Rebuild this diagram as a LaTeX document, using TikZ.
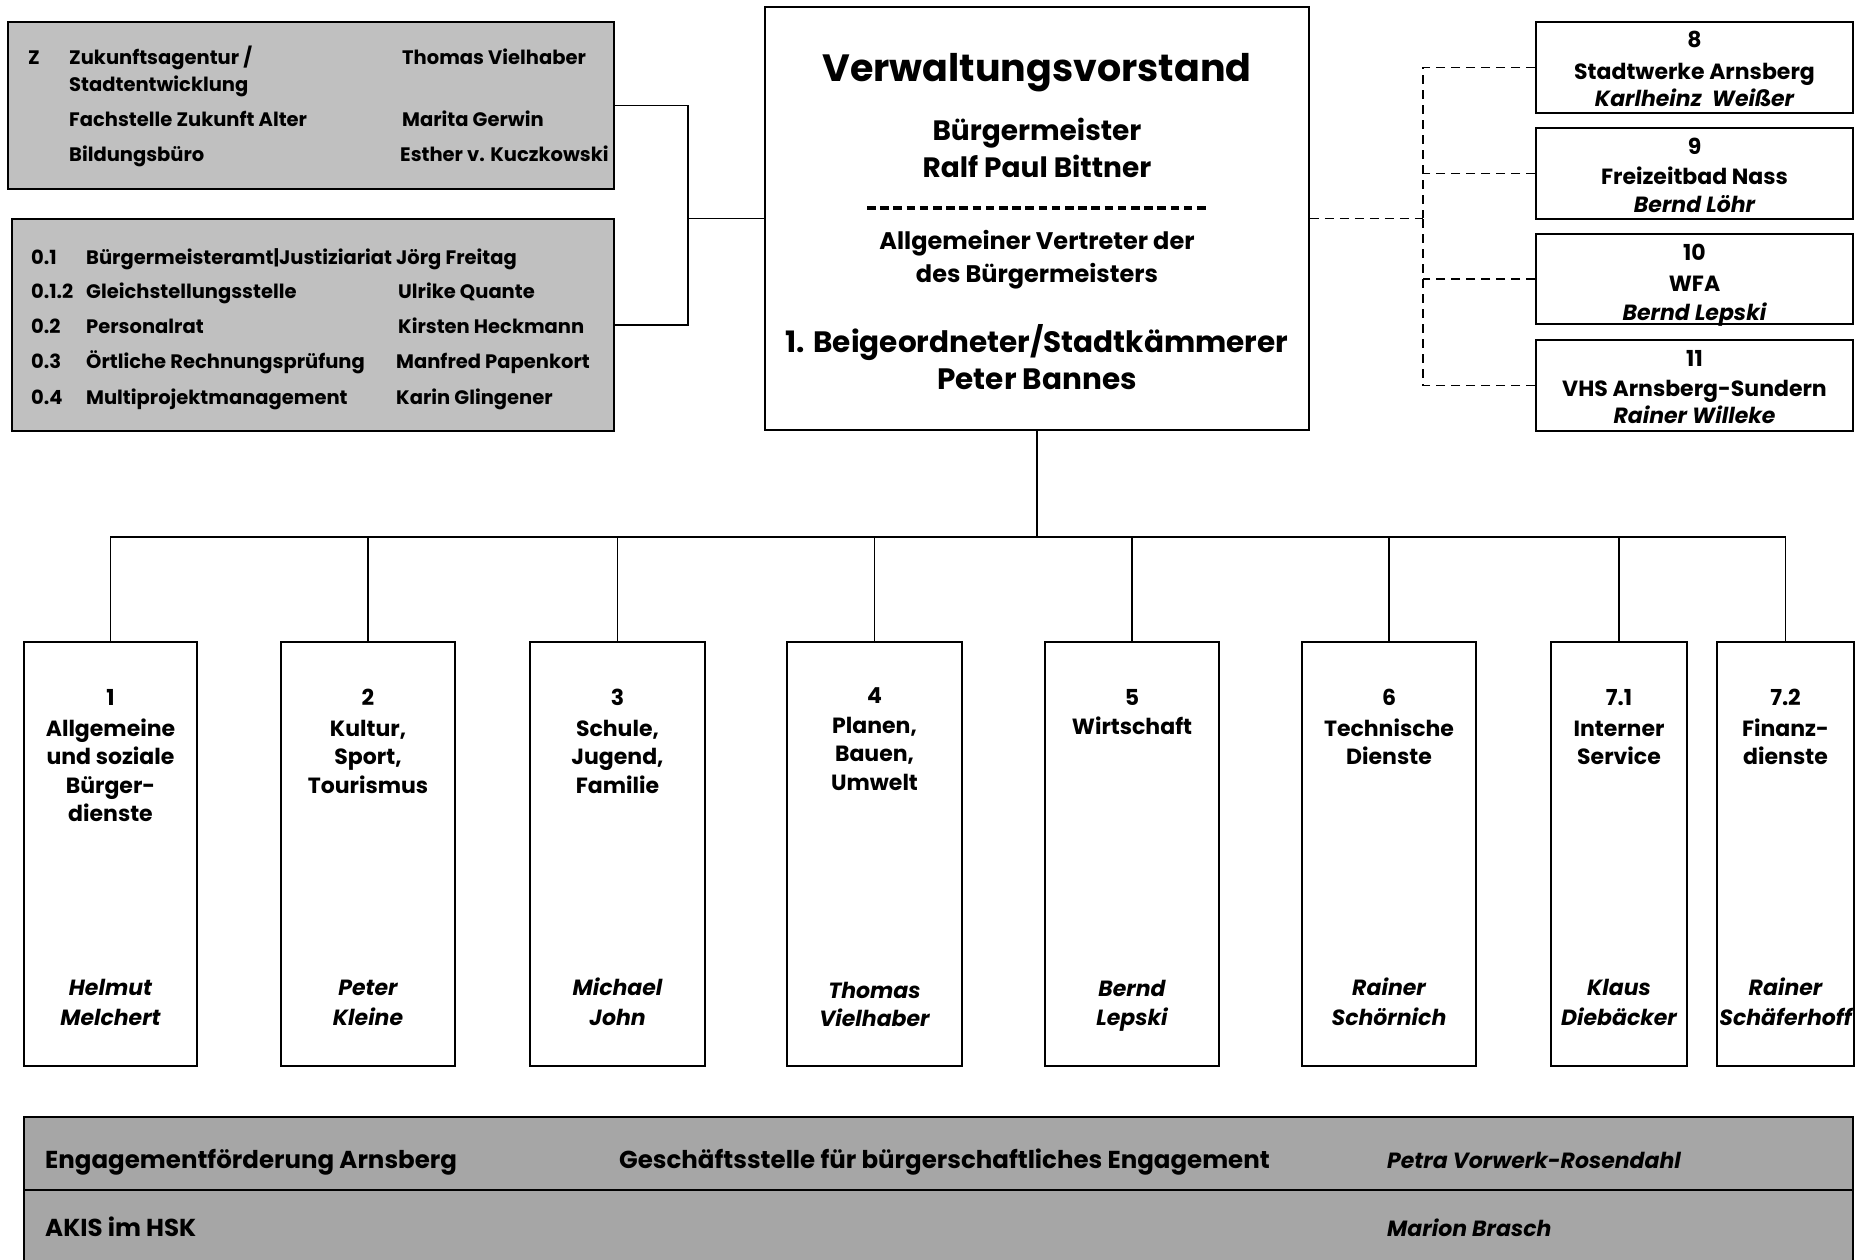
\documentclass[tikz,border=0pt]{standalone}
\usepackage{fontspec}
\setmainfont{Poppins}
\definecolor{gA}{HTML}{C0C0C0}
\definecolor{gB}{HTML}{A6A6A6}
\newcommand\fsz[2]{\fontsize{#1}{#2}\selectfont}
\newcommand\stk[7][txt]{\foreach \t [count=\i] in {#7} {\node[#1, font=#6] (#2-\i) at (#3,{#4+(\i-1)*#5}) {\t};}}
\begin{document}
\begin{tikzpicture}[x=1pt,y=-1pt,
  bx/.style={draw, line width=1.6pt, inner sep=0, fill=white},
  gbx/.style={bx, fill=gA},
  conn/.style={line width=1.6pt},
  dconn/.style={line width=1.4pt, dash pattern=on 9pt off 6pt},
  txt/.style={anchor=base, inner sep=0},
  txtw/.style={anchor=base west, inner sep=0},
  fL/.style={font=\bfseries\fsz{19.5}{23}}
]
\useasboundingbox (0,0) rectangle (1866,1260);
% boxes
\node[gbx, minimum width=606pt, minimum height=167pt] (Z) at (311,105.5) {};
\node[gbx, minimum width=602pt, minimum height=212pt] (N) at (313,325) {};
\node[bx, minimum width=544pt, minimum height=423pt] (VV) at (1037,218.5) {};
\node[bx, minimum width=317pt, minimum height=91pt] (B8) at (1694.5,67.5) {};
\node[bx, minimum width=317pt, minimum height=91pt] (B9) at (1694.5,173.5) {};
\node[bx, minimum width=317pt, minimum height=90pt] (B10) at (1694.5,279) {};
\node[bx, minimum width=317pt, minimum height=91pt] (B11) at (1694.5,385.5) {};
\node[bx, minimum width=173pt, minimum height=424pt] (D1) at (110.5,854) {};
\node[bx, minimum width=174pt, minimum height=424pt] (D2) at (368,854) {};
\node[bx, minimum width=175pt, minimum height=424pt] (D3) at (617.5,854) {};
\node[bx, minimum width=175pt, minimum height=424pt] (D4) at (874.5,854) {};
\node[bx, minimum width=174pt, minimum height=424pt] (D5) at (1132,854) {};
\node[bx, minimum width=174pt, minimum height=424pt] (D6) at (1389,854) {};
\node[bx, minimum width=136pt, minimum height=424pt] (D71) at (1619,854) {};
\node[bx, minimum width=137pt, minimum height=424pt] (D72) at (1785.5,854) {};
\node[bx, fill=gB, minimum width=1829pt, minimum height=147pt] (E) at (938.5,1190.5) {};
\coordinate (m1) at (24,1190);
\coordinate (m2) at (1853,1190);
\draw[conn] (m1) -- (m2);
% connectors
\coordinate (jl) at (688,218.5);
\draw[conn] (Z.east) -| (jl);
\draw[conn] (N.east) -| (jl);
\draw[conn] (jl) -- (VV.west);
\coordinate (jr) at (1423,218.5);
\draw[dconn] (VV.east) -- (jr);
\draw[dconn] (B8.west) -| (jr);
\draw[dconn] (B11.west) -| (jr);
\draw[dconn] (B9.west) -- (B9.west -| jr);
\draw[dconn] (B10.west) -- (B10.west -| jr);
\coordinate (bus) at (1037,537);
\draw[conn] (VV.south) -- (bus);
\foreach \d in {D1,D2,D3,D4,D5,D6,D71,D72} {\draw[conn] (\d.north) |- (bus);}
% main box text
\node[txt, font=\bfseries\fsz{38}{42}] (vt) at (1037,82) {Verwaltungsvorstand};
\stk{bm}{1037}{141}{37}{\bfseries\fsz{28}{32}}{Bürgermeister,Ralf Paul Bittner}
\coordinate (dl1) at (867,208);
\coordinate (dl2) at (1210,208);
\draw[line width=3.2pt, dash pattern=on 8.5pt off 4.7pt] (dl1) -- (dl2);
\stk{av}{1037}{249}{33}{\bfseries\fsz{24}{28}}{Allgemeiner Vertreter der,des Bürgermeisters}
\stk{bg}{1037}{352}{37}{\bfseries\fsz{29.5}{34}}{1. Beigeordneter/Stadtkämmerer,Peter Bannes}
% top-left box Z
\node[txtw, fL] (z0) at (28,65) {Z};
\stk[txtw]{zl}{69}{65}{27}{\bfseries\fsz{19.5}{23}}{Zukunftsagentur /,Stadtentwicklung}
\node[txtw, fL] (z3) at (69,127) {Fachstelle Zukunft Alter};
\node[txtw, fL] (z4) at (69,162) {Bildungsbüro};
\node[txtw, fL] (z5) at (402,65) {Thomas Vielhaber};
\node[txtw, fL] (z6) at (402,127) {Marita Gerwin};
\node[txtw, fL] (z7) at (400,162) {Esther v. Kuczkowski};
% box 0
\node[txtw, fL] (n1) at (31,264) {0.1};
\node[txtw, fL] (n2) at (31,298) {0.1.2};
\node[txtw, fL] (n3) at (31,333) {0.2};
\node[txtw, fL] (n4) at (31,368) {0.3};
\node[txtw, fL] (n5) at (31,404) {0.4};
\node[txtw, fL] (l1) at (86,264) {Bürgermeisteramt|Justiziariat Jörg Freitag};
\node[txtw, fL] (l2) at (86,298) {Gleichstellungsstelle};
\node[txtw, fL] (l3) at (86,333) {Personalrat};
\node[txtw, fL] (l4) at (86,368) {Örtliche Rechnungsprüfung};
\node[txtw, fL] (l5) at (86,404) {Multiprojektmanagement};
\node[txtw, fL] (p2) at (398,298) {Ulrike Quante};
\node[txtw, fL] (p3) at (398,333) {Kirsten Heckmann};
\node[txtw, fL] (p4) at (396,368) {Manfred Papenkort};
\node[txtw, fL] (p5) at (396,404) {Karin Glingener};
% right boxes
\def\rf{\bfseries\fsz{22}{26}}
\def\rfi{\bfseries\itshape\fsz{22}{26}}
\stk{r8}{1694.5}{48}{32}{\rf}{8,Stadtwerke Arnsberg}
\node[txt, font=\rfi] (r8n) at (1694.5,107) {Karlheinz\ \ Weißer};
\stk{r9}{1694.5}{155}{30}{\rf}{9,Freizeitbad Nass}
\node[txt, font=\rfi] (r9n) at (1694.5,213) {Bernd Löhr};
\stk{r10}{1694.5}{260}{31}{\rf}{10,WFA}
\node[txt, font=\rfi] (r10n) at (1694.5,320) {Bernd Lepski};
\stk{r11}{1694.5}{366}{30}{\rf}{11,VHS Arnsberg-Sundern}
\node[txt, font=\rfi] (r11n) at (1694.5,423) {Rainer Willeke};
% lower boxes
\def\nf{\bfseries\fsz{22}{26}}
\def\nfi{\bfseries\itshape\fsz{22}{26}}
\stk{d1n}{110.5}{705}{0}{\nf}{1}
\stk{d1t}{110.5}{736}{28.5}{\nf}{Allgemeine,und soziale,Bürger-,dienste}
\stk{d1p}{110.5}{995}{30}{\nfi}{Helmut,Melchert}
\stk{d2n}{368}{705}{0}{\nf}{2}
\stk{d2t}{368}{736}{28.5}{\nf}{{Kultur,},{Sport,},Tourismus}
\stk{d2p}{368}{995}{30}{\nfi}{Peter,Kleine}
\stk{d3n}{617.5}{705}{0}{\nf}{3}
\stk{d3t}{617.5}{736}{28.5}{\nf}{{Schule,},{Jugend,},Familie}
\stk{d3p}{617.5}{995}{30}{\nfi}{Michael,John}
\stk{d4n}{874.5}{703}{0}{\nf}{4}
\stk{d4t}{874.5}{733}{28.5}{\nf}{{Planen,},{Bauen,},Umwelt}
\stk{d4p}{874.5}{998}{28}{\nfi}{Thomas,Vielhaber}
\stk{d5n}{1132}{705}{0}{\nf}{5}
\stk{d5t}{1132}{734}{28.5}{\nf}{Wirtschaft}
\stk{d5p}{1132}{996}{29}{\nfi}{Bernd,Lepski}
\stk{d6n}{1389}{705}{0}{\nf}{6}
\stk{d6t}{1389}{736}{28.5}{\nf}{Technische,Dienste}
\stk{d6p}{1389}{995}{30}{\nfi}{Rainer,Schörnich}
\stk{d71n}{1619}{705}{0}{\nf}{7.1}
\stk{d71t}{1619}{736}{28.5}{\nf}{Interner,Service}
\stk{d71p}{1619}{995}{30}{\nfi}{Klaus,Diebäcker}
\stk{d72n}{1785.5}{705}{0}{\nf}{7.2}
\stk{d72t}{1785.5}{736}{28.5}{\nf}{Finanz-,dienste}
\stk{d72p}{1785.5}{995}{30}{\nfi}{Rainer,Schäferhoff}
% bottom band
\def\bf{\bfseries\fsz{24.5}{28}}
\node[txtw, font=\bfseries\fsz{24.5}{28}] (e1) at (45,1168) {Engagementförderung Arnsberg};
\node[txtw, font=\bfseries\fsz{24.5}{28}] (e2) at (619,1168) {Geschäftsstelle für bürgerschaftliches Engagement};
\node[txtw, font=\nfi] (e3) at (1387,1168) {Petra Vorwerk-Rosendahl};
\node[txtw, font=\bfseries\fsz{24.5}{28}] (e4) at (45,1236) {AKIS im HSK};
\node[txtw, font=\nfi] (e5) at (1387,1236) {Marion Brasch};
\end{tikzpicture}
\end{document}
